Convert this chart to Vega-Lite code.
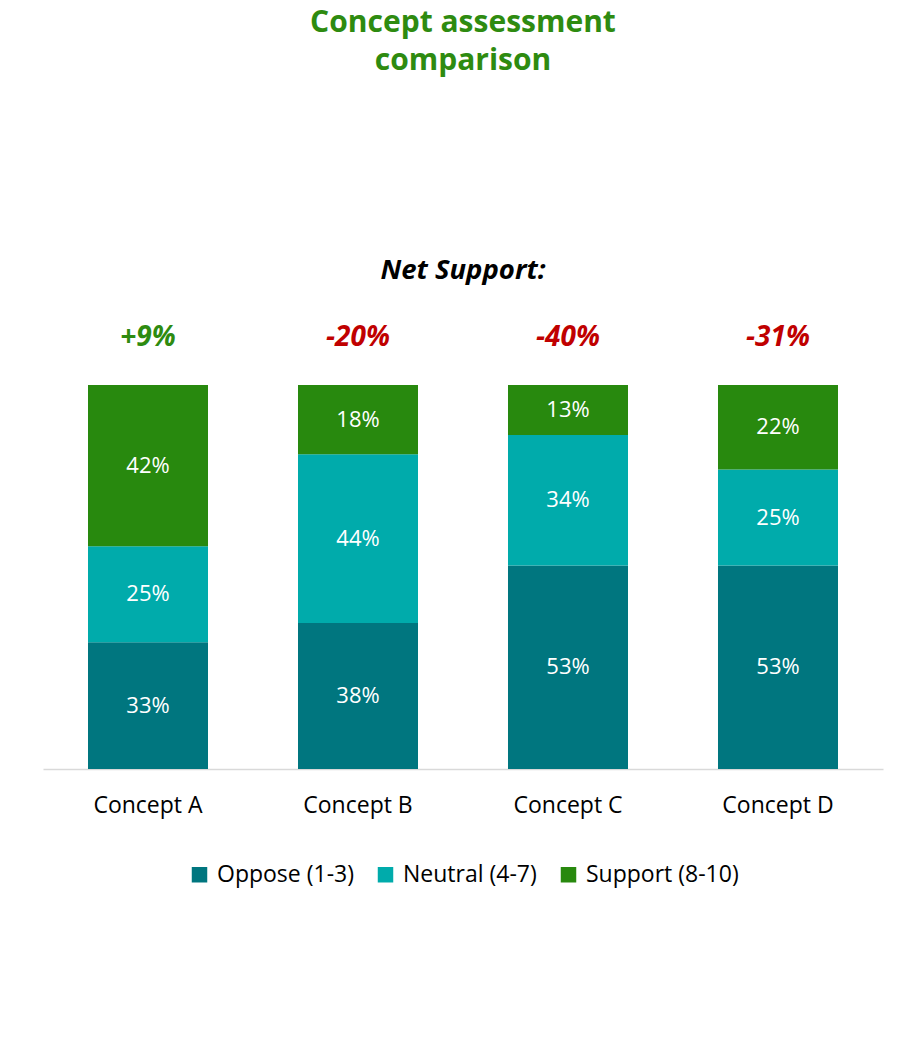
{
  "$schema": "https://vega.github.io/schema/vega-lite/v6.json",
  "width": 840,
  "height": 453,
  "padding": {"left": 43, "top": 7, "right": 24, "bottom": 5},
  "autosize": {"type": "pad"},
  "background": "white",
  "title": {
    "text": ["Concept assessment", "comparison"],
    "subtitle": "Net Support:",
    "font": "Open Sans",
    "fontSize": 30,
    "fontWeight": "bold",
    "color": "#2E8B10",
    "lineHeight": 38,
    "subtitleFont": "Open Sans",
    "subtitleFontSize": 27.5,
    "subtitleFontStyle": "italic",
    "subtitleFontWeight": "bold",
    "subtitleColor": "#000000",
    "subtitlePadding": 181,
    "offset": 32,
    "anchor": "middle"
  },
  "datasets": {
    "segments": [
      {"concept": "Concept A", "category": "Oppose (1-3)", "value": 0.33, "k": 1},
      {"concept": "Concept A", "category": "Neutral (4-7)", "value": 0.25, "k": 2},
      {"concept": "Concept A", "category": "Support (8-10)", "value": 0.42, "k": 3},
      {"concept": "Concept B", "category": "Oppose (1-3)", "value": 0.38, "k": 1},
      {"concept": "Concept B", "category": "Neutral (4-7)", "value": 0.44, "k": 2},
      {"concept": "Concept B", "category": "Support (8-10)", "value": 0.18, "k": 3},
      {"concept": "Concept C", "category": "Oppose (1-3)", "value": 0.53, "k": 1},
      {"concept": "Concept C", "category": "Neutral (4-7)", "value": 0.34, "k": 2},
      {"concept": "Concept C", "category": "Support (8-10)", "value": 0.13, "k": 3},
      {"concept": "Concept D", "category": "Oppose (1-3)", "value": 0.53, "k": 1},
      {"concept": "Concept D", "category": "Neutral (4-7)", "value": 0.25, "k": 2},
      {"concept": "Concept D", "category": "Support (8-10)", "value": 0.22, "k": 3}
    ],
    "nets": [
      {"concept": "Concept A", "net": 0.09, "label": "+9%"},
      {"concept": "Concept B", "net": -0.20, "label": "-20%"},
      {"concept": "Concept C", "net": -0.40, "label": "-40%"},
      {"concept": "Concept D", "net": -0.31, "label": "-31%"}
    ]
  },
  "encoding": {
    "x": {
      "field": "concept",
      "type": "nominal",
      "sort": ["Concept A", "Concept B", "Concept C", "Concept D"],
      "scale": {"paddingInner": 0.428571, "paddingOuter": 0.214286},
      "axis": {
        "title": null,
        "labelAngle": 0,
        "labelFontSize": 23,
        "labelColor": "#000000",
        "labelFont": "Open Sans",
        "labelPadding": 25,
        "ticks": false,
        "tickSize": 0,
        "domainColor": "#D9D9D9",
        "domainWidth": 1.5
      }
    }
  },
  "layer": [
    {
      "data": {"name": "segments"},
      "mark": {"type": "bar"},
      "encoding": {
        "y": {
          "field": "value",
          "type": "quantitative",
          "stack": "zero",
          "scale": {"domain": [0, 1.18], "nice": false},
          "axis": null
        },
        "color": {
          "field": "category",
          "type": "nominal",
          "scale": {
            "domain": ["Oppose (1-3)", "Neutral (4-7)", "Support (8-10)"],
            "range": ["#00767F", "#00ABAB", "#28890E"]
          },
          "legend": {
            "title": null,
            "orient": "bottom",
            "direction": "horizontal",
            "symbolType": "square",
            "symbolSize": 240,
            "symbolStrokeWidth": 0,
            "labelFontSize": 23,
            "labelFont": "Open Sans",
            "labelColor": "#000000",
            "columnPadding": 20,
            "labelOffset": 6,
            "offset": 46
          }
        },
        "order": {"field": "k", "type": "quantitative"}
      }
    },
    {
      "data": {"name": "segments"},
      "mark": {"type": "text", "color": "#FFFFFF", "fontSize": 22, "font": "Open Sans", "baseline": "middle"},
      "encoding": {
        "y": {"field": "value", "type": "quantitative", "stack": "zero", "bandPosition": 0.5},
        "text": {"field": "value", "type": "quantitative", "format": ".0%"},
        "detail": {"field": "category"},
        "order": {"field": "k", "type": "quantitative"}
      }
    },
    {
      "data": {"name": "nets"},
      "mark": {"type": "text", "fontSize": 28, "font": "Open Sans", "fontWeight": "bold", "fontStyle": "italic", "baseline": "middle"},
      "encoding": {
        "y": {"datum": 1.122, "type": "quantitative"},
        "text": {"field": "label"},
        "color": {"condition": {"test": "datum.net > 0", "value": "#2E8B10"}, "value": "#C00000"}
      }
    }
  ],
  "config": {
    "view": {"stroke": null},
    "font": "Open Sans",
    "legend": {"layout": {"bottom": {"anchor": "middle"}}}
  }
}
